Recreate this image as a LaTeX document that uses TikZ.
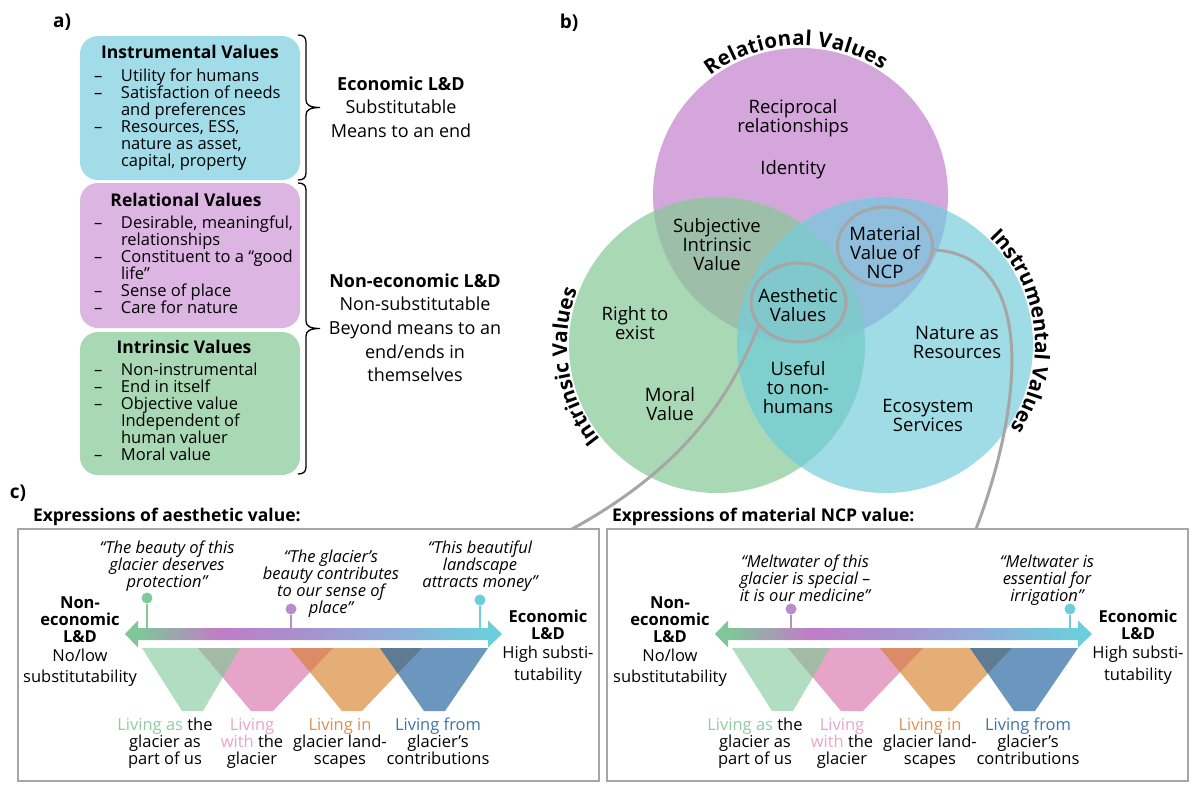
\documentclass[tikz,border=0pt]{standalone}
\usepackage{fontspec}
\setmainfont{Open Sans}
\usetikzlibrary{shapes.geometric,decorations.text}
\definecolor{instA}{HTML}{A2DCE8}
\definecolor{relA}{HTML}{DCB5E2}
\definecolor{intA}{HTML}{A9D8B4}
\definecolor{vR}{HTML}{D5A6DC}
\definecolor{vG}{HTML}{A9D8B5}
\definecolor{vC}{HTML}{A0DCE6}
\definecolor{vRG}{HTML}{9DBFA9}
\definecolor{vRC}{HTML}{8FBFDD}
\definecolor{vGC}{HTML}{7ECFCD}
\definecolor{vRGC}{HTML}{80C8CB}
\definecolor{lgray}{HTML}{A6A6A6}
\definecolor{ag}{HTML}{7FC69A}
\definecolor{ap}{HTML}{C07DC7}
\definecolor{al}{HTML}{A890CD}
\definecolor{ab}{HTML}{93A9D6}
\definecolor{ac}{HTML}{6CCEDC}
\definecolor{tG}{HTML}{B1DEC0}
\definecolor{tP}{HTML}{E6A5C8}
\definecolor{tO}{HTML}{E5AE77}
\definecolor{tB}{HTML}{6B97BE}
\definecolor{tGP}{HTML}{A3BBA5}
\definecolor{tPO}{HTML}{DB8B66}
\definecolor{tOB}{HTML}{5F7B92}
\definecolor{wG}{HTML}{8CCFA0}
\definecolor{wP}{HTML}{E8A5CB}
\definecolor{wO}{HTML}{E0904C}
\definecolor{wB}{HTML}{3D72AB}
\definecolor{pinG}{HTML}{80C99A}
\definecolor{pinP}{HTML}{B98DCC}
\definecolor{pinC}{HTML}{6CCEDC}
\pgfdeclarehorizontalshading{arrowshade}{100bp}{color(0bp)=(ag); color(27bp)=(ag); color(37.5bp)=(ap); color(48bp)=(al); color(59bp)=(ab); color(73bp)=(ac); color(100bp)=(ac)}
\newcommand\cpar[1]{\parbox[t]{240pt}{\lineskiplimit=-100pt\centering #1}}
\newcommand\lpar[1]{\parbox[t]{220pt}{\lineskiplimit=-100pt\raggedright #1}}
\newcommand\dl{\makebox[27pt][l]{–}}
\newcommand\il{\hspace*{27pt}}
\tikzset{
  txt/.style={inner sep=0pt, outer sep=0pt},
  abox/.style={rounded corners=18pt, minimum width=220pt, inner sep=0pt},
  cbox/.style={draw=lgray, line width=2.5pt, inner sep=0pt, minimum width=581pt, minimum height=252pt},
  ell/.style={draw=lgray, line width=3pt, ellipse, minimum width=95pt, minimum height=79pt, inner sep=0pt},
  conn/.style={draw=lgray, line width=3pt},
  bracestyle/.style={draw=black, line width=1.3pt},
  pinball/.style={circle, minimum size=11pt, inner sep=0pt},
  pinstem/.style={line width=2.5pt},
  lab/.style={txt, font=\fontsize{19}{19}\selectfont\bfseries},
  atitle/.style={txt, anchor=base, font=\fontsize{17.5}{18}\selectfont\bfseries},
  alist/.style={txt, anchor=base west, font=\fontsize{16.5}{17}\selectfont},
  aside/.style={txt, anchor=base, font=\fontsize{18}{23.7}\selectfont},
  vtxt/.style={txt, anchor=base, font=\fontsize{18.5}{19}\selectfont},
  ctitle/.style={txt, anchor=base west, font=\fontsize{17.5}{18}\selectfont\bfseries},
  quote/.style={txt, anchor=base, font=\fontsize{16.5}{17}\selectfont\itshape},
  ctxt/.style={txt, anchor=base, font=\fontsize{16.5}{17}\selectfont},
  curv/.style={decorate, decoration={text along path, text align=fit to path,
     text={|\fontsize{20.5}{20.5}\selectfont\bfseries|#1}}}
}
\begin{document}
\begin{tikzpicture}[x=1pt,y=1pt]
\useasboundingbox (0,0) rectangle (1192,-787);
\fill[white] (0,0) rectangle (1192,-787);

% ---------- panel labels
\node[lab] (labA) at (62,-22) {a)};
\node[lab] (labB) at (569,-23) {b)};
\node[lab] (labC) at (18,-493) {c)};

% ---------- panel a
\node[abox, fill=instA, minimum height=144pt] (boxI) at (190,-108) {};
\node[abox, fill=relA, minimum height=145pt] (boxR) at (190,-255.5) {};
\node[abox, fill=intA, minimum height=143pt] (boxN) at (190,-403.5) {};
\node[atitle] (tI) at (190,-58) {Instrumental Values};
\node[atitle] (tR) at (186,-206) {Relational Values};
\node[atitle] (tN) at (184,-353) {Intrinsic Values};
\node[alist] (lI) at (94,-81.5) {\lpar{\dl Utility for humans\\\dl Satisfaction of needs\\\il and preferences\\\dl Resources, ESS,\\\il nature as asset,\\\il capital, property}};
\node[alist] (lR) at (94,-228.5) {\lpar{\dl Desirable, meaningful,\\\il relationships\\\dl Constituent to a “good\\\il life”\\\dl Sense of place\\\dl Care for nature}};
\node[alist] (lN) at (94,-375.5) {\lpar{\dl Non-instrumental\\\dl End in itself\\\dl Objective value\\\il Independent of\\\il human valuer\\\dl Moral value}};

\draw[bracestyle] (298,-35) .. controls (303,-35) and (306,-37) .. (306,-42) -- (306,-100)
   .. controls (306,-105) and (310,-107.5) .. (320,-107.5)
   .. controls (310,-107.5) and (306,-110) .. (306,-115) -- (306,-173)
   .. controls (306,-178) and (303,-180) .. (298,-180);
\draw[bracestyle] (298,-183) .. controls (303,-183) and (306,-185) .. (306,-190) -- (306,-321)
   .. controls (306,-326) and (310,-328.5) .. (320,-328.5)
   .. controls (310,-328.5) and (306,-331) .. (306,-336) -- (306,-467)
   .. controls (306,-472) and (303,-474) .. (298,-474);
\node[aside] (eco) at (401,-90) {\cpar{\textbf{Economic L\&D}\\Substitutable\\Means to an end}};
\node[aside] (neco) at (415,-287) {\cpar{\textbf{Non-economic L\&D}\\Non-substitutable\\Beyond means to an\\end/ends in\\themselves}};

% ---------- panel b : Venn
\coordinate (cR) at (800.5,-195.5);
\coordinate (cG) at (717,-345);
\coordinate (cC) at (885,-345);
\fill[vR] (cR) circle (147.5);
\fill[vG] (cG) circle (148);
\fill[vC] (cC) circle (148);
\begin{scope}\clip (cR) circle (147.5); \fill[vRG] (cG) circle (148); \end{scope}
\begin{scope}\clip (cR) circle (147.5); \fill[vRC] (cC) circle (148); \end{scope}
\begin{scope}\clip (cG) circle (148); \fill[vGC] (cC) circle (148); \end{scope}
\begin{scope}\clip (cR) circle (147.5); \clip (cG) circle (148); \fill[vRGC] (cC) circle (148); \end{scope}

\node[vtxt] (recip) at (793,-113) {\cpar{Reciprocal\\relationships}};
\node[vtxt] (ident) at (793,-174) {\cpar{Identity}};
\node[vtxt] (subj) at (717,-232) {\cpar{Subjective\\Intrinsic\\Value}};
\node[vtxt] (matt) at (885,-240) {\cpar{Material\\Value of\\NCP}};
\node[vtxt] (aest) at (798,-302) {\cpar{Aesthetic\\Values}};
\node[vtxt] (right) at (635,-320) {\cpar{Right to\\exist}};
\node[vtxt] (moral) at (670,-401) {\cpar{Moral\\Value}};
\node[vtxt] (useful) at (798,-375) {\cpar{Useful\\to non-\\humans}};
\node[vtxt] (natres) at (957,-339) {\cpar{Nature as\\Resources}};
\node[vtxt] (ecos) at (928,-412) {\cpar{Ecosystem\\Services}};

\node[ell] (mat) at (885,-246.5) {};
\node[ell] (aes) at (798.5,-302.5) {};

\path[curv={Relational Values}] (cR) ++(127:150) arc[start angle=127, end angle=57, radius=150];
\path[curv={Intrinsic Values}] (cG) ++(219:150) arc[start angle=219, end angle=159, radius=150];
\path[curv={Instrumental Values}] (cC) ++(46:150) arc[start angle=46, end angle=-33, radius=150];

% ---------- panel c
\node[ctitle] (titA) at (33,-521) {Expressions of aesthetic value:};
\node[ctitle] (titB) at (612,-521) {Expressions of material NCP value:};
\node[cbox] (boxA) at (308.5,-655) {};
\node[cbox] (boxB) at (897.5,-655) {};
\coordinate (aesEnd) at (572,-529);
\coordinate (matEnd) at (976,-529);
\draw[conn] (aes.210) .. controls (730,-400) and (680,-470) .. (aesEnd);
\draw[conn] (mat.-4) .. controls (1035,-255) and (1025,-400) .. (matEnd);

\foreach \dx/\nm in {0/A,590/B}{
\begin{scope}[shift={(\dx,0)}]
  \fill[tG] (142,-648) -- (240,-648) -- (203,-711) -- (182,-711) -- cycle;
  \fill[tP] (198,-648) -- (333,-648) -- (273,-711) -- (251,-711) -- cycle;
  \fill[tO] (290,-648) -- (422,-648) -- (362,-711) -- (342,-711) -- cycle;
  \fill[tB] (380,-648) -- (488,-648) -- (445,-711) -- (424,-711) -- cycle;
  \begin{scope}
    \clip (142,-648) -- (240,-648) -- (203,-711) -- (182,-711) -- cycle;
    \fill[tGP] (198,-648) -- (333,-648) -- (273,-711) -- (251,-711) -- cycle;
  \end{scope}
  \begin{scope}
    \clip (198,-648) -- (333,-648) -- (273,-711) -- (251,-711) -- cycle;
    \fill[tPO] (290,-648) -- (422,-648) -- (362,-711) -- (342,-711) -- cycle;
  \end{scope}
  \begin{scope}
    \clip (290,-648) -- (422,-648) -- (362,-711) -- (342,-711) -- cycle;
    \fill[tOB] (380,-648) -- (488,-648) -- (445,-711) -- (424,-711) -- cycle;
  \end{scope}
  \shade[shading=arrowshade] (125,-634) -- (138,-620.5) -- (138,-628) -- (488,-628) -- (488,-620.5)
     -- (502,-634) -- (488,-647.5) -- (488,-640) -- (138,-640) -- (138,-647.5) -- cycle;
  \node[ctxt] (non\nm) at (80,-608) {\cpar{\textbf{Non-}\\\textbf{economic}\\\textbf{L\&D}\\[2pt]No/low\\[4pt]substitutability}};
  \node[ctxt] (eco\nm) at (548,-622) {\cpar{\textbf{Economic}\\\textbf{L\&D}\\[2pt]High substi-\\[5pt]tutability}};
  \node[ctxt] (las\nm) at (165,-730) {\cpar{\textcolor{wG}{Living as} the\\glacier as\\part of us}};
  \node[ctxt] (lwith\nm) at (252,-730) {\cpar{\textcolor{wP}{Living}\\\textcolor{wP}{with} the\\glacier}};
  \node[ctxt] (lin\nm) at (340,-730) {\cpar{\textcolor{wO}{Living in}\\glacier land-\\scapes}};
  \node[ctxt] (lfrom\nm) at (438,-730) {\cpar{\textcolor{wB}{Living from}\\glacier’s\\contributions}};
\end{scope}
}

% box A quotes and pins
\node[quote] (qa1) at (167,-553) {\cpar{“The beauty of this\\glacier deserves\\protection”}};
\node[quote] (qa2) at (331,-562) {\cpar{“The glacier’s\\beauty contributes\\to our sense of\\place”}};
\node[quote] (qa3) at (480,-553) {\cpar{“This beautiful\\landscape\\attracts money”}};
\node[pinball, fill=pinG] (pa1) at (147,-598) {};
\node[pinball, fill=pinP] (pa2) at (291,-609) {};
\node[pinball, fill=pinC] (pa3) at (480,-600) {};
\coordinate (pa1e) at (147,-629);
\coordinate (pa2e) at (291,-629);
\coordinate (pa3e) at (480,-629);
\draw[pinstem, pinG] (pa1) -- (pa1e);
\draw[pinstem, pinP] (pa2) -- (pa2e);
\draw[pinstem, pinC] (pa3) -- (pa3e);

% box B quotes and pins
\node[quote] (qb1) at (805,-567) {\cpar{“Meltwater of this\\glacier is special –\\it is our medicine”}};
\node[quote] (qb2) at (1047,-567) {\cpar{“Meltwater is\\essential for\\irrigation”}};
\node[pinball, fill=pinP] (pb1) at (791,-609) {};
\node[pinball, fill=pinC] (pb2) at (1070,-609) {};
\coordinate (pb1e) at (791,-629);
\coordinate (pb2e) at (1070,-629);
\draw[pinstem, pinP] (pb1) -- (pb1e);
\draw[pinstem, pinC] (pb2) -- (pb2e);
\end{tikzpicture}
\end{document}
